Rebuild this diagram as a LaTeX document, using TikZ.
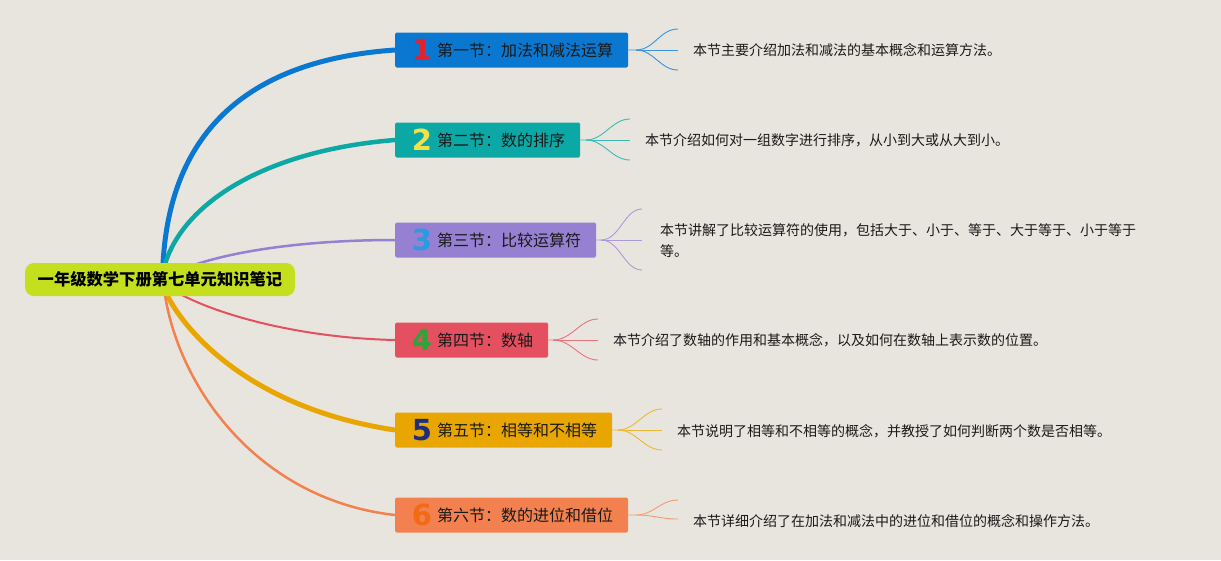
\documentclass[tikz,border=0pt]{standalone}
\usepackage{fontspec}
\setmainfont{Noto Sans CJK SC}
\newfontfamily\digitfont{DejaVu Sans}
\definecolor{bgc}{HTML}{E8E5DE}
\definecolor{rootc}{HTML}{C4DF1E}
\definecolor{c1}{HTML}{0A78D0}
\definecolor{c2}{HTML}{0CA8A6}
\definecolor{c3}{HTML}{9580D2}
\definecolor{c4}{HTML}{E4505F}
\definecolor{c5}{HTML}{E9A600}
\definecolor{c6}{HTML}{F3804F}
\definecolor{d1}{HTML}{E0242F}
\definecolor{d2}{HTML}{F2E24A}
\definecolor{d3}{HTML}{2A9BE0}
\definecolor{d4}{HTML}{2DA53A}
\definecolor{d5}{HTML}{1F2E7A}
\definecolor{d6}{HTML}{F26A12}
\definecolor{txt}{HTML}{1A1A1A}
\tikzset{
  rootbox/.style={fill=rootc, rounded corners=9pt, minimum width=270pt, minimum height=33pt, inner sep=0pt,
    font=\fontsize{16.3}{18}\selectfont\bfseries, text=black},
  secbox/.style={anchor=west, rounded corners=1.5pt, minimum height=35pt, inner sep=0pt},
  digit/.style={font=\digitfont\bfseries\fontsize{29}{30}\selectfont, inner sep=0pt},
  sectext/.style={anchor=west, inner sep=0pt, text=txt, font=\fontsize{16}{17}\selectfont},
  desc/.style={anchor=west, inner sep=0pt, text=txt, font=\fontsize{14}{21}\selectfont, align=left},
  fanline/.style={line width=0.9pt},
}
\begin{document}
\begin{tikzpicture}[x=1pt,y=-1pt]
\path[fill=bgc] (0,0) rectangle (1221,560);

% anchor points on the root
\coordinate (r1) at (163,264);
\coordinate (r2) at (165,264);
\coordinate (r3) at (197,264);
\coordinate (r4) at (182,295);
\coordinate (r5) at (167,295);
\coordinate (r6) at (165,295);

% section boxes
\node[secbox, fill=c1, minimum width=233pt] (s1) at (395,50) {};
\node[secbox, fill=c2, minimum width=185pt] (s2) at (395,140) {};
\node[secbox, fill=c3, minimum width=201pt] (s3) at (395,240) {};
\node[secbox, fill=c4, minimum width=153pt] (s4) at (395,340) {};
\node[secbox, fill=c5, minimum width=217pt] (s5) at (395,430) {};
\node[secbox, fill=c6, minimum width=233pt] (s6) at (395,515) {};

% main branches
\draw[c1, line width=5pt] (r1) .. controls (170,130) and (250,60) .. (s1.west);
\draw[c2, line width=4.5pt] (r2) .. controls (185,200) and (270,150) .. (s2.west);
\draw[c3, line width=2.5pt] (r3) .. controls (240,250) and (310,240) .. (s3.west);
\draw[c4, line width=2pt] (r4) .. controls (220,315) and (300,338) .. (s4.west);
\draw[c5, line width=5pt] (r5) .. controls (190,340) and (260,410) .. (s5.west);
\draw[c6, line width=2.5pt] (r6) .. controls (180,390) and (260,500) .. (s6.west);

% root node
\node[rootbox] (root) at (160,279.5) {一年级数学下册第七单元知识笔记};

% digits and titles
\node[digit, text=d1] (n1) at (422,50) {1};
\node[digit, text=d2] (n2) at (422,140) {2};
\node[digit, text=d3] (n3) at (422,240) {3};
\node[digit, text=d4] (n4) at (422,340) {4};
\node[digit, text=d5] (n5) at (422,430) {5};
\node[digit, text=d6] (n6) at (422,515) {6};
\node[sectext] (t1) at (437,50) {第一节：加法和减法运算};
\node[sectext] (t2) at (437,140) {第二节：数的排序};
\node[sectext] (t3) at (437,240) {第三节：比较运算符};
\node[sectext] (t4) at (437,340) {第四节：数轴};
\node[sectext] (t5) at (437,430) {第五节：相等和不相等};
\node[sectext] (t6) at (437,515) {第六节：数的进位和借位};

% descriptions
\node[desc] (e1) at (693,50) {本节主要介绍加法和减法的基本概念和运算方法。};
\node[desc] (e2) at (645,140) {本节介绍如何对一组数字进行排序，从小到大或从大到小。};
\node[desc] (e3) at (660,241) {本节讲解了比较运算符的使用，包括大于、小于、等于、大于等于、小于等于\\等。};
\node[desc] (e4) at (613,340) {本节介绍了数轴的作用和基本概念，以及如何在数轴上表示数的位置。};
\node[desc] (e5) at (677,431) {本节说明了相等和不相等的概念，并教授了如何判断两个数是否相等。};
\node[desc] (e6) at (693,521) {本节详细介绍了在加法和减法中的进位和借位的概念和操作方法。};

% fans
\coordinate (f1) at (636,50);
\draw[fanline, c1!80!white] (s1.east) -- (f1) .. controls (654,50) and (660,29) .. (678,29);
\draw[fanline, c1!80!white] (f1) -- (678,50);
\draw[fanline, c1!80!white] (f1) .. controls (654,50) and (660,70) .. (678,70);

\coordinate (f2) at (586,140);
\draw[fanline, c2!80!white] (s2.east) -- (f2) .. controls (604,140) and (612,119) .. (630,119);
\draw[fanline, c2!80!white] (f2) -- (630,140);
\draw[fanline, c2!80!white] (f2) .. controls (604,140) and (612,160) .. (630,160);

\coordinate (f3) at (601,240);
\draw[fanline, c3!80!white] (s3.east) -- (f3) .. controls (620,240) and (624,209) .. (642,209);
\draw[fanline, c3!80!white] (f3) -- (642,240);
\draw[fanline, c3!80!white] (f3) .. controls (620,240) and (624,270) .. (642,270);

\coordinate (f4) at (553,340);
\draw[fanline, c4!80!white] (s4.east) -- (f4) .. controls (572,340) and (580,319) .. (598,319);
\draw[fanline, c4!80!white] (f4) -- (598,340);
\draw[fanline, c4!80!white] (f4) .. controls (572,340) and (580,360) .. (598,360);

\coordinate (f5) at (618,430);
\draw[fanline, c5!80!white] (s5.east) -- (f5) .. controls (636,430) and (644,409) .. (662,409);
\draw[fanline, c5!80!white] (f5) -- (662,430);
\draw[fanline, c5!80!white] (f5) .. controls (636,430) and (644,450) .. (662,450);

\coordinate (f6) at (636,515);
\draw[fanline, c6!80!white] (s6.east) -- (f6) .. controls (654,515) and (660,500) .. (678,500);
\draw[fanline, c6!80!white] (f6) .. controls (654,515) and (660,519) .. (678,519);
\end{tikzpicture}
\end{document}
